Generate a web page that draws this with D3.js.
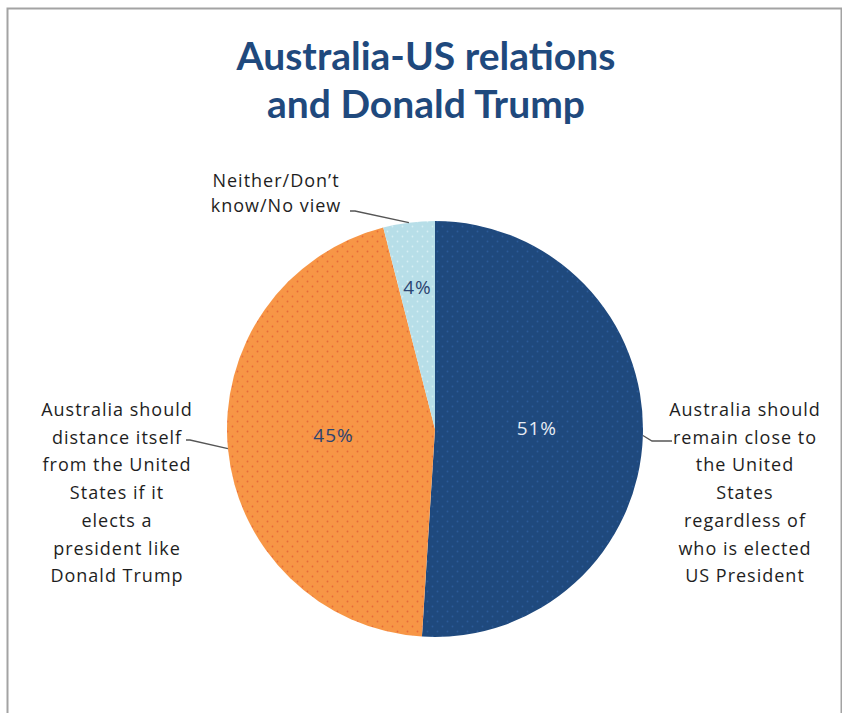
<!DOCTYPE html>
<html>
<head>
<meta charset="utf-8">
<script src="https://cdn.jsdelivr.net/npm/d3@7"></script>
<style>
  html, body { margin: 0; padding: 0; background: #fff; }
  svg { display: block; }
</style>
</head>
<body>
<svg id="chart" width="842" height="713"></svg>
<script>
const titleLines = ["Australia-US relations", "and Donald Trump"];
const categories = [
  "Australia should remain close to the United States regardless of who is elected US President",
  "Australia should distance itself from the United States if it elects a president like Donald Trump",
  "Neither/Don't know/No view"
];
const labelLines = [
  ["Australia should", "remain close to", "the United", "States", "regardless of", "who is elected", "US President"],
  ["Australia should", "distance itself", "from the  United", "States if it", "elects a", "president like", "Donald Trump"],
  ["Neither/Don\u2019t", "know/No view"]
];
const values = [51, 45, 4];
const percentLabels = ["51%", "45%", "4%"];
const colors = ["#1f497d", "#f79646", "#b7dee8"];
const dotColors = ["#2b5a9a", "#e8683a", "#d6eef4"];
const pctColors = ["#e6ecf4", "#2c4470", "#2c4470"];

const svg = d3.select("#chart");
const cx = 435, cy = 429, R = 208;
const titleFont = "Lato, 'Open Sans', sans-serif";
const font = "'Open Sans', Lato, sans-serif";

// frame
svg.append("rect").attr("x", 7.5).attr("y", 8.5).attr("width", 834).attr("height", 720)
  .attr("fill", "#fff").attr("stroke", "#a3a3a3").attr("stroke-width", 2);

// dot patterns
const defs = svg.append("defs");
colors.forEach((c, i) => {
  const p = defs.append("pattern").attr("id", "pat" + i).attr("patternUnits", "userSpaceOnUse")
    .attr("width", 10).attr("height", 10);
  p.append("rect").attr("width", 10).attr("height", 10).attr("fill", c);
  p.append("circle").attr("cx", 2.5).attr("cy", 2.5).attr("r", 0.9).attr("fill", dotColors[i]);
  p.append("circle").attr("cx", 7.5).attr("cy", 7.5).attr("r", 0.9).attr("fill", dotColors[i]);
});

// title
svg.append("g").selectAll("text").data(titleLines).join("text")
  .attr("x", 426).attr("y", (d, i) => 70 + i * 48)
  .attr("text-anchor", "middle")
  .attr("font-family", titleFont).attr("font-weight", "bold").attr("font-size", 39)
  .attr("fill", "#1f497d").text(d => d);

const pie = d3.pie().sort(null).value(d => d);
const arcs = pie(values);
const arc = d3.arc().innerRadius(0).outerRadius(R);
const g = svg.append("g").attr("transform", `translate(${cx},${cy})`);

g.selectAll("path").data(arcs).join("path")
  .attr("d", arc).attr("fill", (d, i) => `url(#pat${i})`);

// percentage labels
g.selectAll("text.pct").data(arcs).join("text").attr("class", "pct")
  .each(function (d, i) {
    const k = (d.endAngle - d.startAngle) < 0.5 ? 0.67 : 0.49;
    const a = (d.startAngle + d.endAngle) / 2;
    d3.select(this).attr("x", Math.sin(a) * R * k).attr("y", -Math.cos(a) * R * k - 4);
  })
  .attr("text-anchor", "middle").attr("dominant-baseline", "central")
  .attr("font-family", font).attr("font-size", 19).attr("letter-spacing", 1)
  .attr("fill", (d, i) => pctColors[i]).text((d, i) => percentLabels[i]);

// category labels
const labelPos = [
  { x: 745, y: 416, lh: 27.7, anchor: [672, 441], elbow: [652, 441] },
  { x: 117, y: 416, lh: 27.7, anchor: [186, 440], elbow: [190, 440] },
  { x: 276, y: 187, lh: 24.5, anchor: [350, 211], elbow: [355, 211] }
];
arcs.forEach((d, i) => {
  const lp = labelPos[i];
  svg.append("g").selectAll("text").data(labelLines[i]).join("text")
    .attr("x", lp.x).attr("y", (t, j) => lp.y + j * lp.lh)
    .attr("text-anchor", "middle")
    .attr("font-family", font).attr("font-size", 18).attr("letter-spacing", 1)
    .attr("fill", "#1e1e1e")
    .text(t => t);
  const a = (d.startAngle + d.endAngle) / 2;
  const pOut = [cx + Math.sin(a) * R, cy - Math.cos(a) * R];
  svg.append("path")
    .attr("d", d3.line()([lp.anchor, lp.elbow, pOut]))
    .attr("fill", "none").attr("stroke", "#555").attr("stroke-width", 1.3);
});
</script>
</body>
</html>
